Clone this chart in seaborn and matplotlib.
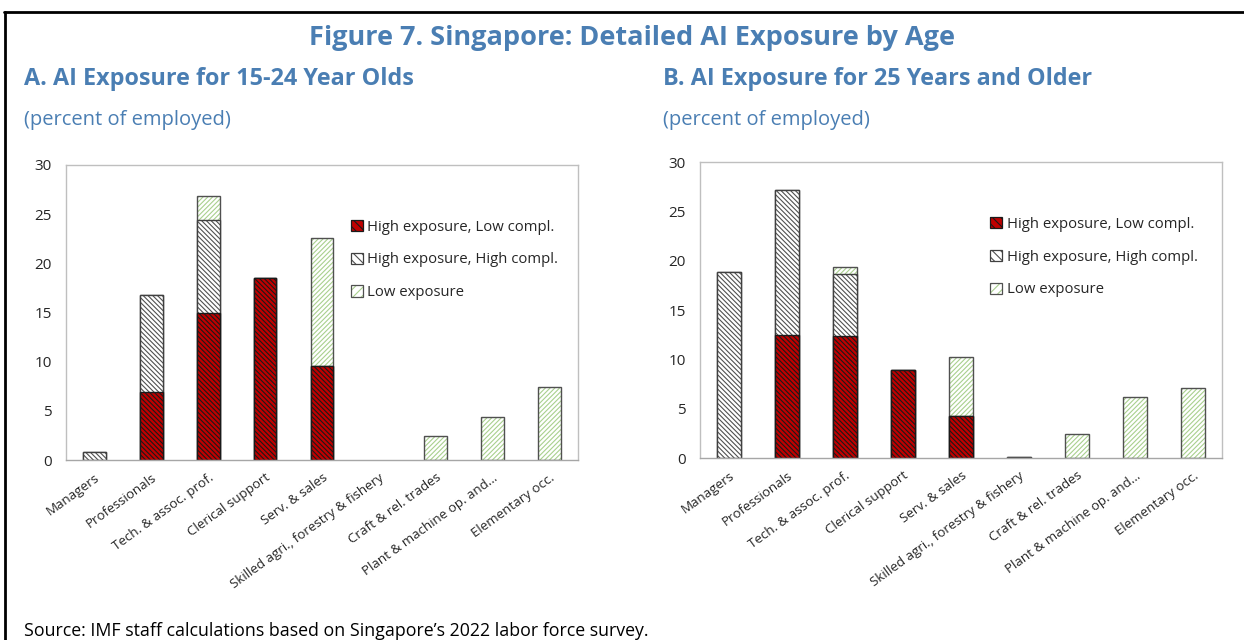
import matplotlib
matplotlib.use("Agg")
import matplotlib.pyplot as plt
import seaborn as sns
import numpy as np
import pandas as pd
from matplotlib.patches import Patch
from matplotlib.lines import Line2D
from matplotlib.legend_handler import HandlerTuple

categories = ["Managers", "Professionals", "Tech. & assoc. prof.", "Clerical support",
              "Serv. & sales", "Skilled agri., forestry & fishery", "Craft & rel. trades",
              "Plant & machine op. and\u2026", "Elementary occ."]

a_high_low = [0, 6.9, 15.0, 18.5, 9.6, 0, 0, 0, 0]
a_high_high = [0.85, 9.9, 9.4, 0, 0, 0, 0, 0, 0]
a_low = [0, 0, 2.4, 0, 13.0, 0, 2.45, 4.35, 7.45]

b_high_low = [0, 12.5, 12.4, 8.9, 4.3, 0, 0, 0, 0]
b_high_high = [18.85, 14.65, 6.25, 0, 0, 0.15, 0, 0, 0]
b_low = [0, 0, 0.75, 0, 5.95, 0, 2.4, 6.15, 7.05]

series_names = ["High exposure, Low compl.", "High exposure, High compl.", "Low exposure"]
yticks = [0, 5, 10, 15, 20, 25, 30]

sns.set_theme(style="white")
plt.rcParams['font.family'] = ['Open Sans', 'DejaVu Sans']
plt.rcParams['hatch.linewidth'] = 0.8

BLUE = "#4A7EB3"
RED = "#C00000"
GREEN = "#A9D08E"
DARK = "#404040"
SPINE = "#BFBFBF"

BS = "\\"
styles = {
    "hl": dict(face=RED, hatch=BS * 7, hcolor="#1a1a1a", edge="#1a1a1a"),
    "hh": dict(face="white", hatch=BS * 7, hcolor="#505050", edge=DARK),
    "low": dict(face="white", hatch="/" * 7, hcolor=GREEN, edge="#505050"),
}

W, H = 1244, 640
fig = plt.figure(figsize=(W / 100, H / 100), dpi=100)

def px(x, y):
    return x / W, 1 - y / H

def draw_panel(ax, hl, hh, low):
    hl = np.array(hl); hh = np.array(hh); low = np.array(low)
    layers = [("low", hl + hh + low), ("hh", hl + hh), ("hl", hl)]
    for key, vals in layers:
        st = styles[key]
        df = pd.DataFrame({"cat": categories, "val": vals})
        n0 = len(ax.patches)
        sns.barplot(data=df, x="cat", y="val", order=categories, ax=ax,
                    color=st["face"], saturation=1, errorbar=None, width=0.4,
                    hatch=st["hatch"], edgecolor=st["hcolor"], linewidth=0)
        sns.barplot(data=df, x="cat", y="val", order=categories, ax=ax,
                    fill=False, errorbar=None, width=0.4,
                    edgecolor=st["edge"], linewidth=1.0, color=st["edge"])
        for p in ax.patches[n0:]:
            if p.get_height() <= 0.001:
                p.set_visible(False)
    ax.set_ylim(0, 30)
    ax.set_xlim(-0.5, len(categories) - 0.5)
    ax.set_yticks(yticks)
    ax.set_yticklabels([str(t) for t in yticks], fontsize=11)
    ax.set_xlabel("")
    ax.set_ylabel("")
    ax.set_xticks(range(len(categories)))
    ax.set_xticklabels(categories, rotation=36, ha="right", rotation_mode="anchor", fontsize=9.6)
    ax.set_xticks(np.arange(0.5, len(categories) - 0.5, 1), minor=True)
    ax.tick_params(axis="x", which="major", length=0, pad=8)
    ax.tick_params(axis="x", which="minor", length=4, direction="in", color=SPINE, width=1)
    ax.tick_params(axis="y", length=0, pad=10)
    for s in ax.spines.values():
        s.set_visible(True)
        s.set_color(SPINE)
        s.set_linewidth(1.0)
    ax.spines["bottom"].set_color("#A6A6A6")
    ax.grid(False)
    handles = []
    for k in ["hl", "hh", "low"]:
        st = styles[k]
        fillp = Patch(facecolor=st["face"], hatch=st["hatch"][:4], edgecolor=st["hcolor"], linewidth=0)
        outp = Patch(facecolor="none", edgecolor=st["edge"], linewidth=0.9)
        handles.append((fillp, outp))
    ax.legend(handles, series_names, loc="upper left", bbox_to_anchor=(0.545, 0.835),
              frameon=False, fontsize=10.7, handlelength=0.8, handleheight=0.8,
              handletextpad=0.3, labelspacing=1.2, borderaxespad=0,
              handler_map={tuple: HandlerTuple(ndivide=1, pad=0)})

axA = fig.add_axes([66 / W, 1 - 460 / H, (578 - 66) / W, (460 - 165) / H])
axB = fig.add_axes([700 / W, 1 - 458 / H, (1222 - 700) / W, (458 - 162) / H])
draw_panel(axA, a_high_low, a_high_high, a_low)
draw_panel(axB, b_high_low, b_high_high, b_low)

fig.text(*px(632, 38), "Figure 7. Singapore: Detailed AI Exposure by Age", ha="center", va="center",
         fontsize=19.5, fontweight="bold", color=BLUE)
fig.text(*px(24, 79), "A. AI Exposure for 15-24 Year Olds", ha="left", va="center",
         fontsize=16.8, fontweight="bold", color=BLUE)
fig.text(*px(663, 79), "B. AI Exposure for 25 Years and Older", ha="left", va="center",
         fontsize=16.8, fontweight="bold", color=BLUE)
fig.text(*px(24, 120), "(percent of employed)", ha="left", va="center", fontsize=14.5, color=BLUE)
fig.text(*px(663, 120), "(percent of employed)", ha="left", va="center", fontsize=14.5, color=BLUE)
fig.text(*px(24, 631), "Source: IMF staff calculations based on Singapore\u2019s 2022 labor force survey.",
         ha="left", va="center", fontsize=12.75, color="black")

fig.add_artist(Line2D([4 / W, 1.0], [1 - 12 / H, 1 - 12 / H], color="black", linewidth=2.0,
                      transform=fig.transFigure))
fig.add_artist(Line2D([5 / W, 5 / W], [1 - 12 / H, 0], color="black", linewidth=2.0,
                      transform=fig.transFigure))

fig.savefig("out.png", dpi=100)
